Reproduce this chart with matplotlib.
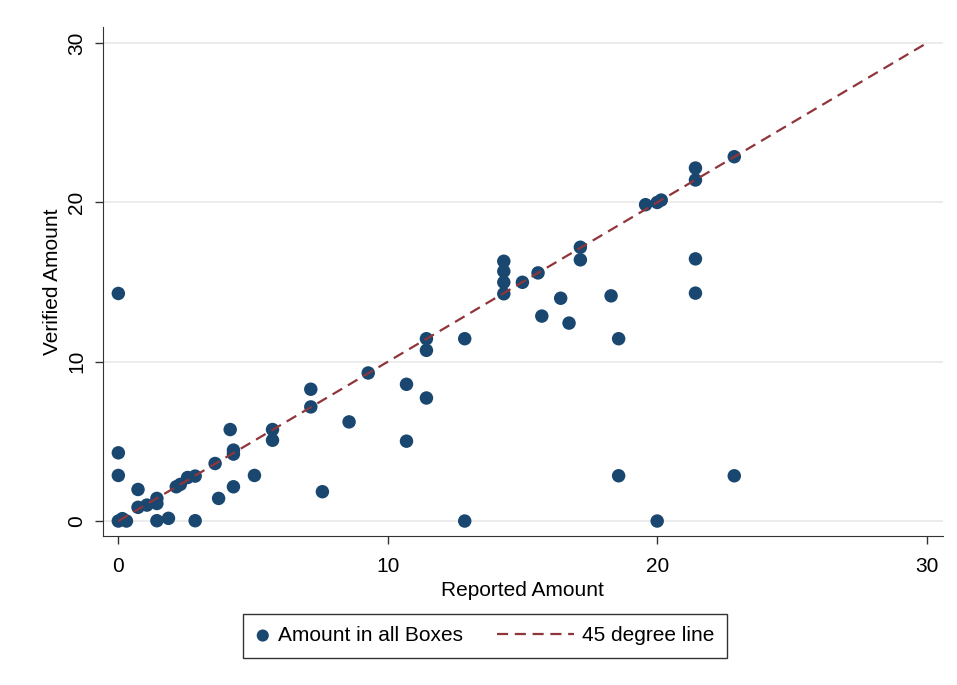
import numpy as np
import matplotlib.pyplot as plt
from matplotlib.legend_handler import HandlerLine2D
from matplotlib.lines import Line2D

# reported vs verified amounts
reported = [0, 0, 0, 0, 0.15, 0.3, 0.73, 0.73, 1.06, 1.43, 1.43, 1.43, 1.86,
            2.15, 2.3, 2.57, 2.85, 2.85, 3.59, 3.72, 4.15, 4.27, 4.27, 4.27,
            5.05, 5.72, 5.72, 7.14, 7.14, 7.57, 8.56, 9.27, 10.69, 10.69,
            11.43, 11.43, 11.43, 12.85, 12.85, 14.3, 14.3, 14.3, 14.3, 14.99,
            15.57, 15.71, 16.41, 16.72, 17.14, 17.14, 18.28, 18.56, 18.56,
            19.56, 19.99, 20.14, 19.99, 21.41, 21.41, 21.41, 21.41, 22.85, 22.85]
verified = [14.28, 4.28, 2.86, 0, 0.15, 0, 1.98, 0.86, 1.0, 1.42, 1.1, 0.02, 0.17,
            2.15, 2.3, 2.73, 2.82, 0.02, 3.61, 1.42, 5.74, 4.45, 4.2, 2.15,
            2.86, 5.74, 5.07, 8.27, 7.16, 1.84, 6.22, 9.29, 8.58, 5.01,
            11.44, 10.71, 7.72, 11.44, 0, 16.3, 15.67, 14.98, 14.26, 14.98,
            15.57, 12.86, 13.98, 12.42, 17.18, 16.39, 14.13, 11.44, 2.84,
            19.85, 19.99, 20.14, 0, 22.15, 21.4, 16.45, 14.3, 22.86, 2.84]
line_x = [0, 30]
ticks = [0, 10, 20, 30]


class LongDash(HandlerLine2D):
    # dashed handle that reaches further left than the (short) handle box
    def create_artists(self, legend, orig_handle, xdescent, ydescent, width, height,
                       fontsize, trans):
        y = (height - ydescent) / 2
        ln = Line2D([-xdescent - 3.0 * fontsize, width - xdescent], [y, y])
        self.update_prop(ln, orig_handle, legend)
        ln.set_transform(trans)
        return [ln]


plt.rcParams['font.family'] = ['Liberation Sans', 'DejaVu Sans']
fig = plt.figure(figsize=(9.57, 6.85), dpi=100)
ax = fig.add_axes([0.1076, 0.2175, 0.8774, 0.7431])

ax.set_axisbelow(True)
ax.grid(axis='y', color='#eaeaea', lw=1.3)
sc = ax.scatter(reported, verified, s=94, c='#1a476f', edgecolors='none', zorder=2,
                label='Amount in all Boxes')
ln, = ax.plot(line_x, line_x, color='#90353b', lw=1.6, dashes=(5, 3), zorder=3,
              label='45 degree line')

ax.set_xlim(-0.57, 30.58)
ax.set_ylim(-0.94, 31.0)
ax.set_xticks(ticks)
ax.set_yticks(ticks)
ax.tick_params(labelsize=15, length=6, width=1, color='#333333', pad=6)
ax.tick_params(axis='x', pad=9)
for lab in ax.get_yticklabels():
    lab.set_rotation(90)
    lab.set_va('center')
for s in ['top', 'right']:
    ax.spines[s].set_visible(False)
for s in ['left', 'bottom']:
    ax.spines[s].set_color('#333333')
ax.set_xlabel('Reported Amount', fontsize=15, labelpad=4)
ax.set_ylabel('Verified Amount', fontsize=15, labelpad=4)

leg = fig.legend(handles=[sc, ln], loc='center', bbox_to_anchor=(485/957, 1-635.5/685),
                 ncol=2, fontsize=15, frameon=True, fancybox=False, edgecolor='black',
                 handlelength=0.7, columnspacing=4.6, borderpad=0.6, handletextpad=0.4,
                 markerscale=0.9, handler_map={Line2D: LongDash()})
leg.get_frame().set_linewidth(1.0)

fig.savefig('out.png', dpi=100, facecolor='white')
